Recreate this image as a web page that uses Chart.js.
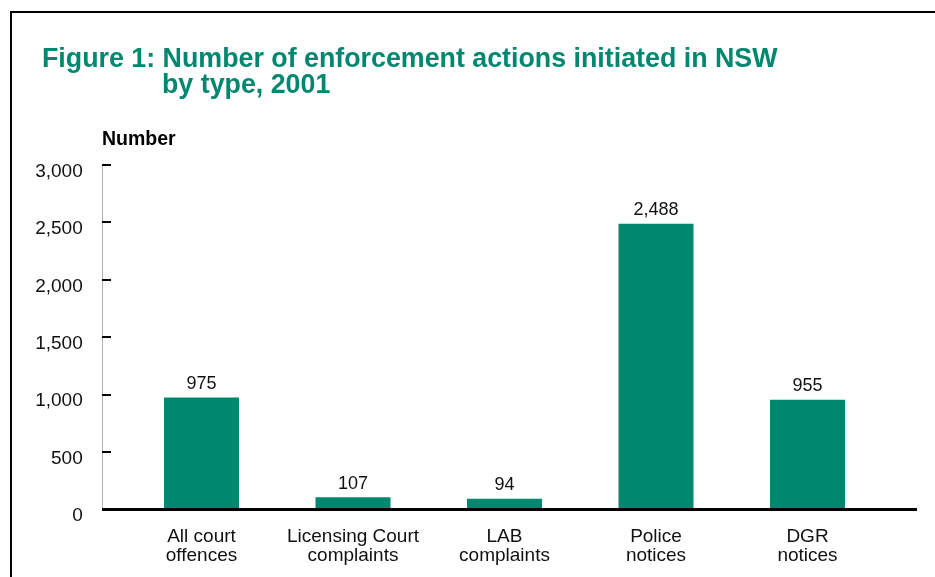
<!DOCTYPE html>
<html>
<head>
<meta charset="utf-8">
<script src="https://cdn.jsdelivr.net/npm/chart.js@4/dist/chart.umd.min.js"></script>
<style>
  html, body { margin: 0; padding: 0; background: #fff; }
  #wrap { position: relative; width: 935px; height: 577px; }
</style>
</head>
<body>
<div id="wrap"><canvas id="lienzo" width="935" height="577"></canvas></div>
<script>
// enforcement actions, NSW 2001
const categories = [
  ['All court', 'offences'],
  ['Licensing Court', 'complaints'],
  ['LAB', 'complaints'],
  ['Police', 'notices'],
  ['DGR', 'notices']
];
const actions = [975, 107, 94, 2488, 955];
const yTicks = [0, 500, 1000, 1500, 2000, 2500, 3000];

const titleLines = ['Figure 1: Number of enforcement actions initiated in NSW', 'by type, 2001'];
const yTitle = 'Number';

const GREEN = '#00876f';
const FONT = "'Liberation Sans', Arial, sans-serif";

const fmt = v => v.toLocaleString('en-US');

// frame, title, axis line, tick marks and value labels
const decor = {
  id: 'decor',
  beforeDraw(chart) {
    const ctx = chart.ctx;
    ctx.save();
    ctx.strokeStyle = '#000';
    ctx.lineWidth = 2;
    ctx.beginPath();
    ctx.moveTo(11, 577); ctx.lineTo(11, 12); ctx.lineTo(935, 12);
    ctx.stroke();

    ctx.fillStyle = GREEN;
    ctx.font = 'bold 26.8px ' + FONT;
    ctx.textBaseline = 'alphabetic';
    ctx.fillText(titleLines[0], 42, 67);
    ctx.fillText(titleLines[1], 162, 93);

    ctx.fillStyle = '#000';
    ctx.font = 'bold 19.5px ' + FONT;
    ctx.fillText(yTitle, 102, 145);
    ctx.restore();
  },
  afterDatasetsDraw(chart) {
    const ctx = chart.ctx;
    const y = chart.scales.y;
    const ax = 102;
    ctx.save();
    // vertical axis line
    ctx.strokeStyle = '#b4b4b4';
    ctx.lineWidth = 1;
    ctx.beginPath();
    ctx.moveTo(ax + 0.5, y.getPixelForValue(3000));
    ctx.lineTo(ax + 0.5, y.getPixelForValue(0));
    ctx.stroke();
    // tick marks
    ctx.strokeStyle = '#000';
    ctx.lineWidth = 2;
    yTicks.forEach(t => {
      if (t === 0) return;
      const py = Math.round(y.getPixelForValue(t));
      ctx.beginPath();
      ctx.moveTo(ax, py); ctx.lineTo(ax + 9, py);
      ctx.stroke();
    });
    // zero line
    const y0 = y.getPixelForValue(0);
    ctx.strokeStyle = '#fff';
    ctx.lineWidth = 5;
    ctx.beginPath(); ctx.moveTo(ax, y0 + 1); ctx.lineTo(917, y0 + 1); ctx.stroke();
    ctx.strokeStyle = '#000';
    ctx.lineWidth = 3;
    ctx.beginPath(); ctx.moveTo(ax, y0); ctx.lineTo(917, y0); ctx.stroke();

    // value labels above bars
    ctx.fillStyle = '#111';
    ctx.font = '18px ' + FONT;
    ctx.textAlign = 'center';
    ctx.textBaseline = 'alphabetic';
    chart.getDatasetMeta(0).data.forEach((bar, i) => {
      ctx.fillText(fmt(actions[i]), bar.x, bar.y - 8.5);
    });
    ctx.restore();
  }
};

const chart = new Chart(document.getElementById('lienzo'), {
  type: 'bar',
  data: {
    labels: categories,
    datasets: [{
      label: yTitle,
      data: actions,
      backgroundColor: GREEN,
      borderWidth: 0,
      categoryPercentage: 1,
      barPercentage: 0.495
    }]
  },
  options: {
    responsive: false,
    animation: false,
    events: [],
    layout: { padding: { left: 0, right: 51.75, top: 165, bottom: 0 } },
    plugins: {
      legend: { display: false },
      tooltip: { enabled: false },
      title: { display: false }
    },
    scales: {
      x: {
        grid: { display: false },
        border: { display: false },
        ticks: {
          color: '#111',
          padding: 10,
          maxRotation: 0,
          autoSkip: false,
          font: { family: FONT, size: 19, lineHeight: 1.0 }
        },
        afterFit(scale) { scale.height = 67.5; }
      },
      y: {
        min: 0,
        max: 3000,
        grid: { display: false },
        border: { display: false },
        afterBuildTicks(scale) { scale.ticks = yTicks.map(v => ({ value: v })); },
        ticks: {
          color: '#111',
          padding: 35,
          labelOffset: 6.5,
          font: { family: FONT, size: 19 },
          callback: v => fmt(v)
        },
        afterFit(scale) { scale.width = 125.75; }
      }
    }
  },
  plugins: [decor]
});
</script>
</body>
</html>
